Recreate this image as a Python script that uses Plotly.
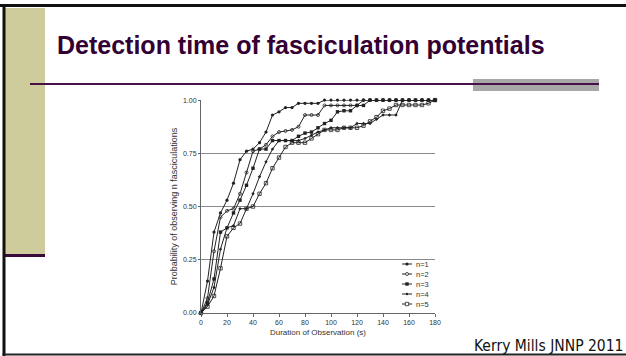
import plotly.graph_objects as go

# Cumulative probability of having observed n fasciculations vs. recording duration
duration_s = list(range(0, 181, 5))

p_n1 = [0, .15, .38, .47, .53, .61, .72, .76, .77, .80, .85, .93, .945, .965, .965,
        .985, .985, .985, .985] + [1.0] * 18
p_n2 = [0, .07, .29, .45, .48, .49, .56, .66, .76, .77, .79, .83, .85, .855, .86,
        .875, .93, .93, .93, .975, .975, .975, .975, .975, .975] + [1.0] * 12
p_n3 = [0, .05, .16, .38, .40, .47, .53, .60, .68, .77, .77, .81, .81, .81, .81,
        .83, .845, .85, .87, .89, .905, .945, .95, .95, .975, .975] + [1.0] * 11
p_n4 = [0, .04, .12, .30, .40, .41, .49, .49, .56, .64, .71, .77, .81, .81, .81,
        .81, .82, .835, .85, .86, .87, .87, .87, .87, .89, .89, .89, .91, .93, .93,
        .93] + [1.0] * 6
p_n5 = [0, .03, .08, .21, .36, .40, .42, .49, .50, .56, .61, .68, .73, .78, .80,
        .80, .80, .82, .84, .86, .86, .86, .87, .87, .87, .88, .90, .92, .95, .96,
        .977, .977, .977, .977, .977, .985, 1.0]

series_names = ["n=1", "n=2", "n=3", "n=4", "n=5"]
series_values = [p_n1, p_n2, p_n3, p_n4, p_n5]

x_ticks = list(range(0, 181, 20))
y_ticks = [0, 0.25, 0.5, 0.75, 1.0]
y_tick_labels = ["0.00", "0.25", "0.50", "0.75", "1.00"]

slide_title = "Detection time of fasciculation potentials"
citation = "Kerry Mills JNNP 2011"
x_title = "Duration of Observation (s)"
y_title = "Probability of observing n fasciculations"

# ---- page geometry (pixels) ----
W, H = 626, 356
PL, PR, PT, PB = 201, 435, 100, 313  # plot area edges


def fx(px):
    return (px - PL) / (PR - PL)


def fy(py):
    return (PB - py) / (PB - PT)


# marker style per series: (symbol, size, line width)
styles = [
    ("circle", 3.2, 0),
    ("circle-open", 3, 0.8),
    ("square", 3.4, 0),
    ("diamond", 2.6, 0),
    ("square-open", 3.4, 0.8),
]
INK = "#222222"

fig = go.Figure()
for name, vals, (sym, size, lw) in zip(series_names, series_values, styles):
    fig.add_trace(go.Scatter(
        x=duration_s, y=vals, name=name, mode="lines+markers",
        line=dict(color=INK, width=1),
        marker=dict(symbol=sym, size=size, color=INK,
                    line=dict(color=INK, width=lw)),
        cliponaxis=False, showlegend=False,
    ))

shapes = []
# slide frame and decorations
shapes.append(dict(type="rect", xref="paper", yref="paper",
                   x0=fx(5), x1=fx(45), y0=fy(255), y1=fy(8),
                   fillcolor="#CDCC9A", line_width=0, layer="below"))
shapes.append(dict(type="rect", xref="paper", yref="paper",
                   x0=fx(5), x1=fx(45), y0=fy(257), y1=fy(254),
                   fillcolor="#3a0a3a", line_width=0, layer="below"))
shapes.append(dict(type="rect", xref="paper", yref="paper",
                   x0=fx(473), x1=fx(599), y0=fy(91), y1=fy(79),
                   fillcolor="#A8A8A8", line_width=0, layer="below"))
shapes.append(dict(type="rect", xref="paper", yref="paper",
                   x0=fx(30), x1=fx(599), y0=fy(85), y1=fy(83),
                   fillcolor="#4a1048", line_width=0, layer="below"))
shapes.append(dict(type="rect", xref="paper", yref="paper",
                   x0=fx(0), x1=fx(626), y0=fy(7), y1=fy(4),
                   fillcolor="#111111", line_width=0, layer="below"))
shapes.append(dict(type="rect", xref="paper", yref="paper",
                   x0=fx(2.5), x1=fx(5.5), y0=fy(356), y1=fy(4),
                   fillcolor="#111111", line_width=0, layer="below"))
shapes.append(dict(type="rect", xref="paper", yref="paper",
                   x0=fx(2.5), x1=fx(626), y0=fy(355.5), y1=fy(353.5),
                   fillcolor="#222222", line_width=0, layer="below"))

annotations = [
    dict(text=f"<b>{slide_title}</b>", xref="paper", yref="paper",
         x=fx(55), y=fy(45), xanchor="left", yanchor="middle", showarrow=False,
         font=dict(family="Liberation Sans, Arial", size=25, color="#330033")),
    dict(text=citation, xref="paper", yref="paper",
         x=fx(472), y=fy(346), xanchor="left", yanchor="middle", showarrow=False,
         font=dict(family="DejaVu Sans Condensed, DejaVu Sans", size=15.5,
                   color="#111111")),
]

# legend drawn as a compact key inside the plot area
key_rows = [264, 274, 284, 294, 304]
for name, (sym, size, lw), row in zip(series_names, styles, key_rows):
    shapes.append(dict(type="line", xref="paper", yref="paper",
                       x0=fx(402), x1=fx(412), y0=fy(row), y1=fy(row),
                       line=dict(color=INK, width=1)))
    r = size / 2
    kind = "circle" if sym.startswith("circle") or sym == "diamond" else "rect"
    if sym == "diamond":
        r = 1.2
    filled = not sym.endswith("open")
    shapes.append(dict(type=kind, xref="paper", yref="paper",
                       x0=fx(407 - r), x1=fx(407 + r), y0=fy(row + r), y1=fy(row - r),
                       fillcolor=INK if filled else "white",
                       line=dict(color=INK, width=0.8 if not filled else 0)))
    annotations.append(dict(text=name, xref="paper", yref="paper",
                            x=fx(414), y=fy(row), xanchor="left", yanchor="middle",
                            showarrow=False,
                            font=dict(family="Liberation Sans, Arial", size=7.5,
                                      color="#333333")))

tick_font = dict(family="Liberation Sans, Arial", size=7, color="#333333")

fig.update_layout(
    width=W, height=H,
    margin=dict(l=PL, r=W - PR, t=PT, b=H - PB, pad=0),
    paper_bgcolor="white", plot_bgcolor="white",
    shapes=shapes, annotations=annotations,
    showlegend=False,
    xaxis=dict(range=[0, 180], tickvals=x_ticks, ticks="outside", ticklen=3,
               tickcolor="#666666", showline=True, linecolor="#666666",
               linewidth=1, showgrid=False, zeroline=False, tickfont=tick_font,
               title=dict(text=x_title, standoff=3,
                          font=dict(family="Liberation Sans, Arial", size=8,
                                    color="#333333"))),
    yaxis=dict(range=[0, 1.0005], tickvals=y_ticks, ticktext=y_tick_labels,
               ticks="outside", ticklen=2, tickcolor="#666666", showline=True,
               linecolor="#666666", linewidth=1, showgrid=True,
               gridcolor="#8a8a8a", gridwidth=1, zeroline=False,
               tickfont=tick_font,
               title=dict(text=y_title, standoff=3,
                          font=dict(family="Liberation Sans, Arial", size=9,
                                    color="#333333"))),
)

fig.write_html("out.html")
